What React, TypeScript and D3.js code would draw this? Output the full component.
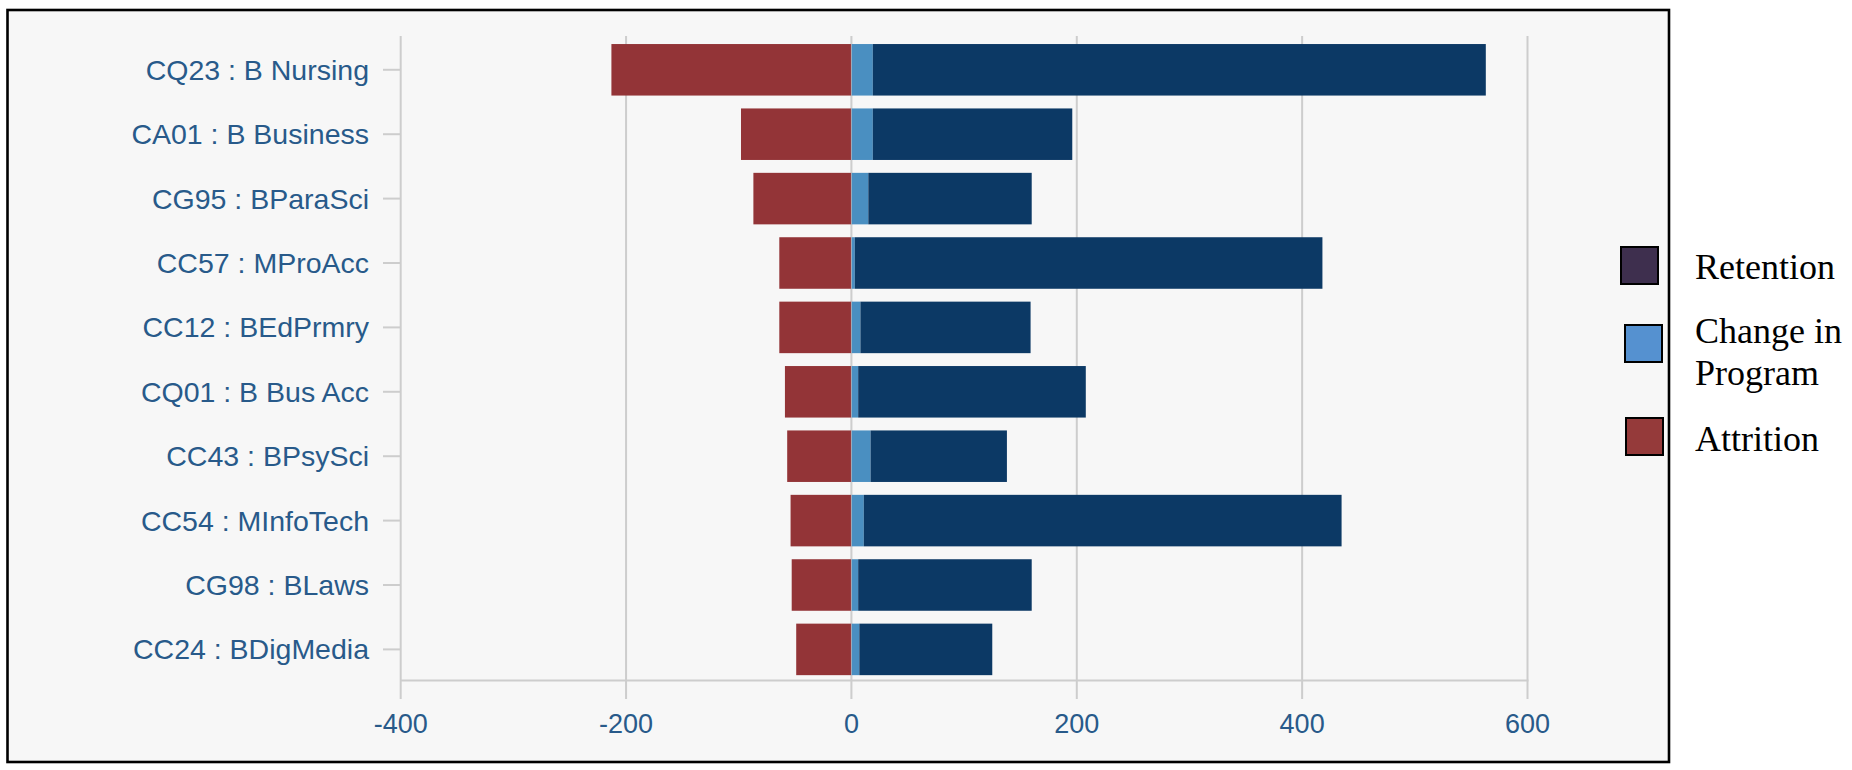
import React from "react";
import * as d3 from "d3";

const categories = [
  "CQ23 : B Nursing",
  "CA01 : B Business",
  "CG95 : BParaSci",
  "CC57 : MProAcc",
  "CC12 : BEdPrmry",
  "CQ01 : B Bus Acc",
  "CC43 : BPsySci",
  "CC54 : MInfoTech",
  "CG98 : BLaws",
  "CC24 : BDigMedia",
];
const attrition = [-213, -98, -87, -64, -64, -59, -57, -54, -53, -49];
const changeInProgram = [19, 19, 15, 3, 8, 6, 17, 11, 6, 7];
const retention = [544, 177, 145, 415, 151, 202, 121, 424, 154, 118];
const xTicks = [-400, -200, 0, 200, 400, 600];
const legendItems = ["Retention", "Change in|Program", "Attrition"];

const W = 1852;
const H = 770;

const COLORS = {
  attrition: "#933437",
  change: "#4a8fc1",
  retention: "#0c3965",
};
const LEGEND_COLORS = ["#3e2f4e", "#5591d0", "#953a3a"];

export default function App() {
  const x = d3.scaleLinear().domain([-400, 600]).range([400.7, 1527.5]);
  const y = d3
    .scaleBand<string>()
    .domain(categories)
    .range([37.6, 681.6])
    .paddingInner(0.2)
    .paddingOuter(0.1);
  const bw = y.bandwidth();
  const labelColor = "#285a8a";
  const grid = "#cdcdcd";
  const font = "'Liberation Sans', Arial, sans-serif";

  return (
    <svg
      width={W}
      height={H}
      style={{ position: "absolute", left: 0, top: 0, display: "block" }}
    >
      <rect x={0} y={0} width={W} height={H} fill="#ffffff" />
      <rect
        x={7.5}
        y={10}
        width={1661.5}
        height={752}
        fill="#f7f7f7"
        stroke="#000"
        strokeWidth={2.6}
      />
      {/* gridlines */}
      {xTicks.map((t) => (
        <line
          key={"g" + t}
          x1={x(t)}
          x2={x(t)}
          y1={36}
          y2={699}
          stroke={grid}
          strokeWidth={2}
        />
      ))}
      {/* x axis line */}
      <line x1={x(-400)} x2={x(600) + 1} y1={680.5} y2={680.5} stroke={grid} strokeWidth={2} />
      {/* category ticks */}
      {categories.map((c) => (
        <line
          key={"t" + c}
          x1={383}
          x2={x(-400)}
          y1={(y(c) as number) + bw / 2}
          y2={(y(c) as number) + bw / 2}
          stroke={grid}
          strokeWidth={2}
        />
      ))}
      {/* bars */}
      {categories.map((c, i) => {
        const yy = y(c) as number;
        const ch = changeInProgram[i];
        const rt = retention[i];
        return (
          <g key={"b" + c}>
            <rect
              x={x(attrition[i])}
              y={yy}
              width={x(0) - x(attrition[i])}
              height={bw}
              fill={COLORS.attrition}
            />
            <rect
              x={x(0)}
              y={yy}
              width={x(ch) - x(0)}
              height={bw}
              fill={COLORS.change}
            />
            <rect
              x={x(ch)}
              y={yy}
              width={x(ch + rt) - x(ch)}
              height={bw}
              fill={COLORS.retention}
            />
          </g>
        );
      })}
      {/* zero line over bars */}
      <line x1={x(0)} x2={x(0)} y1={36} y2={699} stroke={grid} strokeWidth={1} opacity={0.5} />
      {/* category labels */}
      {categories.map((c) => (
        <text
          key={"l" + c}
          x={369}
          y={(y(c) as number) + bw / 2}
          textAnchor="end"
          dominantBaseline="central"
          fontFamily={font}
          fontSize={28.5}
          fill={labelColor}
        >
          {c}
        </text>
      ))}
      {/* x tick labels */}
      {xTicks.map((t) => (
        <text
          key={"x" + t}
          x={x(t)}
          y={724}
          textAnchor="middle"
          dominantBaseline="central"
          fontFamily={font}
          fontSize={27}
          fill={labelColor}
        >
          {t}
        </text>
      ))}
      {/* legend */}
      {legendItems.map((item, i) => {
        const sq = [
          { x: 1621, y: 247 },
          { x: 1625, y: 325 },
          { x: 1626, y: 418 },
        ][i];
        const lines = item.split("|");
        const baselines = [[279], [343, 385], [451]][i];
        return (
          <g key={"lg" + item}>
            <rect
              x={sq.x}
              y={sq.y}
              width={37}
              height={37}
              fill={LEGEND_COLORS[i]}
              stroke="#000"
              strokeWidth={2}
            />
            {lines.map((ln, j) => (
              <text
                key={ln}
                x={1695}
                y={baselines[j]}
                fontFamily="'Liberation Serif', 'Times New Roman', serif"
                fontSize={36}
                fill="#000"
              >
                {ln}
              </text>
            ))}
          </g>
        );
      })}
    </svg>
  );
}
